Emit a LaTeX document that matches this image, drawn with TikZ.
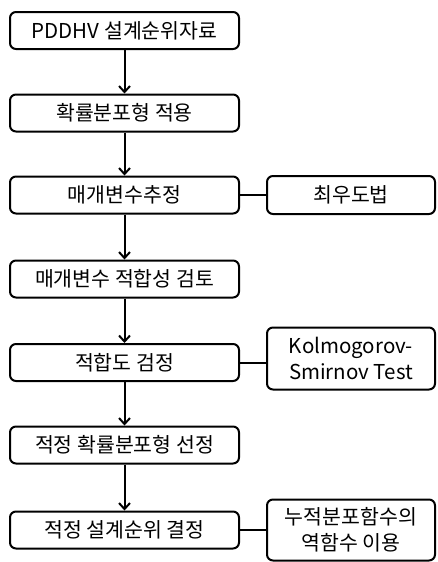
\documentclass[tikz,border=0pt]{standalone}
\usepackage{fontspec}
\setmainfont{Noto Sans CJK KR}
\usepackage{tikz}
\usetikzlibrary{arrows.meta}
\usetikzlibrary{positioning}
\tikzset{blk/.style = {draw, line width = 2pt, rounded corners = 6pt, minimum width = 229pt, minimum height = 37pt, inner sep = 0, font = \fontsize{20.5}{26}\selectfont}}
\tikzset{side/.style = {blk, minimum width = 168pt, align = center}}
\tikzset{flow/.style = {-{Straight Barb[length = 6pt, width = 11pt]}, line width = 2pt}}
\tikzset{link/.style = {line width = 2pt}}

\begin{document}
\begin{tikzpicture}[x = 1pt, y = -1pt]
      \useasboundingbox (0, 0) rectangle (437, 562);

      \node [blk] (s1) at (124.5, 30.5) {PDDHV 설계순위자료};
      \node [blk] (s2) at (124.5, 113) {확률분포형 적용};
      \node [blk] (s3) at (124.5, 195) {매개변수추정};
      \node [blk] (s4) at (124.5, 279) {매개변수 적합성 검토};
      \node [blk] (s5) at (124.5, 362.5) {적합도 검정};
      \node [blk] (s6) at (124.5, 445) {적정 확률분포형 선정};
      \node [blk] (s7) at (124.5, 530) {적정 설계순위 결정};

      \node [side, minimum height = 38pt] (m1) at (351, 195) {최우도법};
      \node [side, minimum height = 62pt] (m2) at (351, 358.5) {Kolmogorov-\\Smirnov Test};
      \node [side, minimum height = 61pt] (m3) at (351, 530) {누적분포함수의\\역함수 이용};

      \draw [flow] (s1) -- (s2);
      \draw [flow] (s2) -- (s3);
      \draw [flow] (s3) -- (s4);
      \draw [flow] (s4) -- (s5);
      \draw [flow] (s5) -- (s6);
      \draw [flow] (s6) -- (s7);

      \draw [link] (s3) -- (m1);
      \draw [link] (s5) -- (s5 -| m2.west);
      \draw [link] (s7) -- (m3);
    \end{tikzpicture}
\end{document}
